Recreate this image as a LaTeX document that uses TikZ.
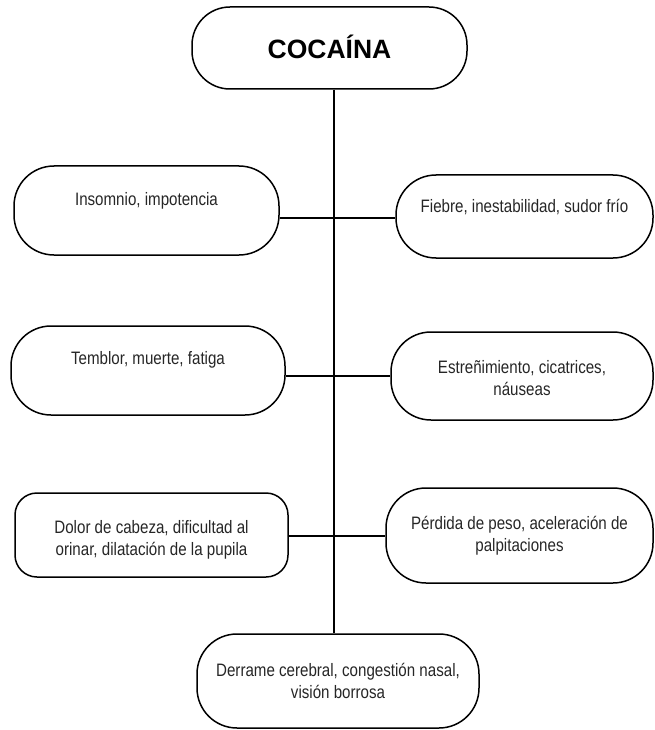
\documentclass[tikz,border=0pt]{standalone}
\usepackage{fontspec}
\setmainfont{Liberation Sans}
\newfontfamily\narrowsans{Liberation Sans}[FakeStretch=0.84]
\usetikzlibrary{calc}

\begin{document}
\begin{tikzpicture}[
  x=1pt, y=-1pt,
  symbox/.style={
    draw=black, line width=1.5pt, rounded corners=40pt, inner sep=0pt
  },
  symtext/.style={
    font=\narrowsans\fontsize{18}{21.5}\selectfont, align=center, text=black!85
  },
  link/.style={draw=black, line width=1.5pt}
]
  \useasboundingbox (0,0) rectangle (654,730);

  % title
  \node[symbox, rounded corners=38pt, minimum width=275pt, minimum height=82pt]
    (title) at (329.5,48) {};
  \node[font=\bfseries\fontsize{26.5}{30}\selectfont] (titletxt) at (329.5,47) {COCAÍNA};

  % symptoms, left column
  \node[symbox, minimum width=265pt, minimum height=89pt] (insom) at (146.5,210.5) {};
  \node[symtext] (insomtxt) at ($(insom)+(0,-10)$) {Insomnio, impotencia};

  \node[symbox, minimum width=274pt, minimum height=89pt] (temblor) at (148,370.5) {};
  \node[symtext] (temblortxt) at ($(temblor)+(0,-11)$) {Temblor, muerte, fatiga};

  \node[symbox, rounded corners=22pt, minimum width=273pt, minimum height=84pt]
    (dolor) at (151.5,535) {};
  \node[symtext] (dolortxt) at ($(dolor)+(0,5)$)
    {Dolor de cabeza, dificultad al\\orinar, dilatación de la pupila};

  % symptoms, right column
  \node[symbox, minimum width=257pt, minimum height=83pt] (fiebre) at (524.5,216.5) {};
  \node[symtext] (fiebretxt) at ($(fiebre)+(0,-9)$) {Fiebre, inestabilidad, sudor frío};

  \node[symbox, minimum width=262pt, minimum height=88pt] (estren) at (522,376) {};
  \node[symtext] (estrentxt) at ($(estren)+(0,2)$) {Estreñimiento, cicatrices,\\náuseas};

  \node[symbox, minimum width=267pt, minimum height=95pt] (perdida) at (519.5,535.5) {};
  \node[symtext] (perdidatxt) at ($(perdida)+(0,0)$)
    {Pérdida de peso, aceleración de\\palpitaciones};

  % bottom
  \node[symbox, minimum width=282pt, minimum height=94pt] (derrame) at (338,681) {};
  \node[symtext] (derrametxt) at ($(derrame)+(0,0)$)
    {Derrame cerebral, congestión nasal,\\visión borrosa};

  % spine and branches
  \coordinate (spine) at (334,0);
  \coordinate (row1) at (0,218);
  \coordinate (row2) at (0,376);
  \coordinate (row3) at (0,536);
  \draw[link, line width=2pt] (title.south -| spine) -- (derrame.north -| spine);
  \draw[link] (insom.east |- row1) -- (fiebre.west |- row1);
  \draw[link] (temblor.east |- row2) -- (estren.west |- row2);
  \draw[link] (dolor.east |- row3) -- (perdida.west |- row3);
\end{tikzpicture}
\end{document}
